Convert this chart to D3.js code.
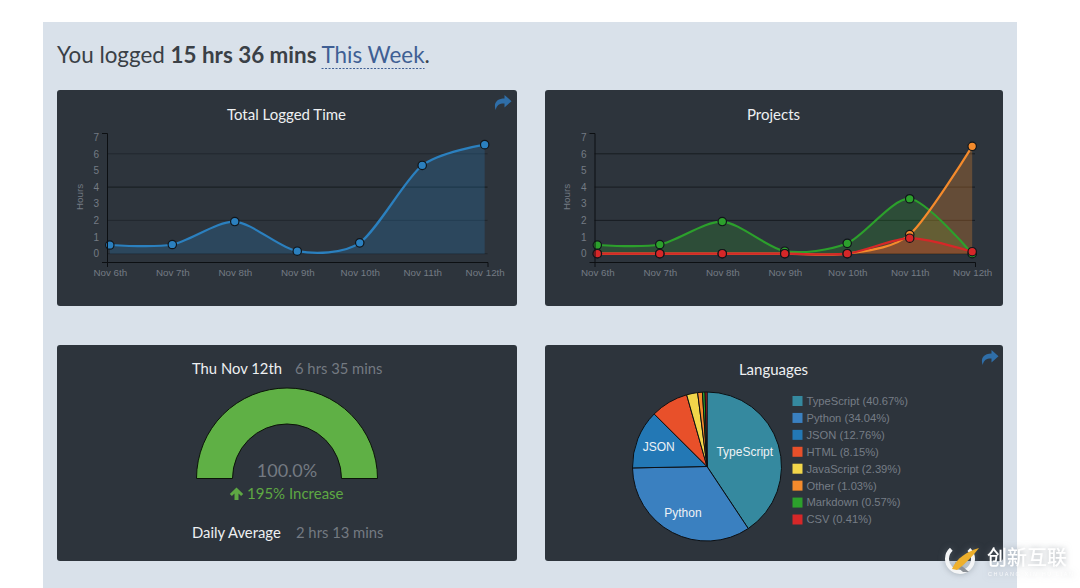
<!DOCTYPE html>
<html>
<head>
<meta charset="utf-8">
<script src="https://cdn.jsdelivr.net/npm/d3@7"></script>
<style>
  body { margin: 0; background: #fff; }
  svg { display: block; }
  .tick text, .axis-label { font-family: "Liberation Sans", sans-serif; font-size: 9.8px; fill: #747b84; }
  .lato { font-family: Lato, sans-serif; }
</style>
</head>
<body>
<div id="chart"></div>
<script>
const days = ["Nov 6th", "Nov 7th", "Nov 8th", "Nov 9th", "Nov 10th", "Nov 11th", "Nov 12th"]
const hourTicks = [0, 1, 2, 3, 4, 5, 6, 7]
const gridHours = [0, 2, 4, 6]

const totalHours = [0.52, 0.55, 1.93, 0.15, 0.65, 5.3, 6.55]
const projectA = [0.52, 0.55, 1.93, 0.15, 0.62, 3.3, 0]
const projectB = [0, 0, 0, 0, 0, 1.15, 6.45]
const projectC = [0, 0, 0, 0, 0, 0.93, 0.12]

const languages = ["TypeScript", "Python", "JSON", "HTML", "JavaScript", "Other", "Markdown", "CSV"]
const languagePct = [40.67, 34.04, 12.76, 8.15, 2.39, 1.03, 0.57, 0.41]
const languageColors = ["#35899f", "#3a80c0", "#2378b5", "#e8502a", "#f2d64a", "#f58b2c", "#2ca02c", "#d62728"]

const gaugePercent = 100

const svg = d3.select("#chart").append("svg").attr("width", 1080).attr("height", 588)

svg.append("rect").attr("x", 43).attr("y", 22).attr("width", 974).attr("height", 566).attr("fill", "#d9e1ea")

// header line
const header = svg.append("text").attr("class", "lato").attr("x", 57).attr("y", 63)
    .style("font-size", "22.4px").attr("fill", "#3a4046")
header.append("tspan").text("You logged ")
header.append("tspan").style("font-weight", 700).text("15 hrs 36 mins")
header.append("tspan").text(" ")
const weekLink = header.append("tspan").attr("fill", "#3f5f94").text("This Week")
header.append("tspan").text(".")
const weekStart = weekLink.node().getStartPositionOfChar(0).x
svg.append("line").attr("x1", weekStart).attr("x2", weekStart + weekLink.node().getComputedTextLength())
    .attr("y1", 68.5).attr("y2", 68.5).attr("stroke", "#3f5f94").attr("stroke-dasharray", "2,1.5")

function panel(x, y, w, h) {
    return svg.append("rect").attr("x", x).attr("y", y).attr("width", w).attr("height", h)
        .attr("rx", 3).attr("fill", "#2d343c")
}

function title(txt, x, y) {
    svg.append("text").attr("class", "lato").attr("x", x).attr("y", y).attr("text-anchor", "middle")
        .style("font-size", "15px").attr("fill", "#eef0f2").text(txt)
}

function shareIcon(x, y) {
    svg.append("path").attr("transform", "translate(" + x + "," + y + ")")
        .attr("d", "M10 0 L17 6.2 L10 12.5 V8.6 C5.5 8.4 2.5 9.5 1.2 15 C-1.5 7.5 3 3.6 10 3.6 Z")
        .attr("fill", "#2f6ea8")
}

panel(57, 90, 460, 216)
panel(545, 90, 458, 216)
panel(57, 345, 460, 216)
panel(545, 345, 458, 216)

title("Total Logged Time", 286.5, 119.5)
title("Projects", 773.5, 119.5)
title("Languages", 773.5, 374.5)
shareIcon(494.5, 95)
shareIcon(981.5, 350)

// line charts
const y = d3.scaleLinear().domain([-0.5, 7.25]).range([262, 133])

function lineChart(left, right, series, gridStyle) {
    const x = d3.scaleLinear().domain([-0.045, 6.045]).range([left, right])
    const g = svg.append("g")

    g.selectAll(".grid").data(gridStyle.hours).join("line")
        .attr("x1", x.range()[0]).attr("x2", x.range()[1])
        .attr("y1", d => y(d)).attr("y2", d => y(d))
        .attr("stroke", "#14181c").attr("stroke-opacity", d => gridStyle.opacity(d))

    const curve = d3.curveCardinal.tension(0.2)
    const area = d3.area().x((d, i) => x(i)).y0(y(0)).y1(d => y(d)).curve(curve)
    const line = d3.line().x((d, i) => x(i)).y(d => y(d)).curve(curve)

    series.forEach(s => {
        g.append("path").attr("d", area(s.values)).attr("fill", s.color).attr("fill-opacity", s.areaOpacity)
    })
    series.forEach(s => {
        g.append("path").attr("d", line(s.values)).attr("fill", "none").attr("stroke", s.color).attr("stroke-width", 2.2)
    })
    series.forEach(s => {
        g.selectAll(null).data(s.values).join("circle")
            .attr("cx", (d, i) => x(i)).attr("cy", d => y(d)).attr("r", 4.2)
            .attr("fill", s.color).attr("stroke", "#10151a").attr("stroke-width", 1.2)
    })

    const yAxis = g.append("g").attr("transform", "translate(" + left + ",0)")
        .call(d3.axisLeft(y).tickValues(hourTicks).tickFormat(d3.format("d")).tickSizeInner(0).tickSizeOuter(5).tickPadding(8))
    const xAxis = g.append("g").attr("transform", "translate(0,262)")
        .call(d3.axisBottom(x).tickValues(days.map((d, i) => i)).tickFormat(i => days[i]).tickSizeInner(0).tickSizeOuter(5).tickPadding(7))
    yAxis.selectAll(".domain").attr("stroke", "#0c0f12")
    xAxis.selectAll(".domain").attr("stroke", "#0c0f12")
    yAxis.selectAll(".tick text").style("font-size", "10px")

    g.append("text").attr("class", "axis-label").attr("text-anchor", "middle")
        .attr("transform", "translate(" + (left - 24.5) + ",197) rotate(-90)").text("Hours")
}

lineChart(107, 487.5, [
    { values: totalHours, color: "#2b80bf", areaOpacity: 0.26 }
], { hours: gridHours, opacity: d => d === 4 ? 0.9 : 0.45 })

lineChart(594.5, 975, [
    { values: projectA, color: "#2ca02c", areaOpacity: 0.24 },
    { values: projectB, color: "#f58b2c", areaOpacity: 0.28 },
    { values: projectC, color: "#d62728", areaOpacity: 0.28 }
], { hours: gridHours, opacity: () => 0.85 })

// gauge
const gaugeAngle = d3.scaleLinear().domain([0, 100]).range([-Math.PI / 2, Math.PI / 2])
const gauge = svg.append("g").attr("transform", "translate(287,478.5)")
gauge.append("path")
    .attr("d", d3.arc().innerRadius(54.5).outerRadius(90.5).startAngle(gaugeAngle(0)).endAngle(gaugeAngle(gaugePercent)))
    .attr("fill", "#5fb045").attr("stroke", "#0b1408").attr("stroke-width", 1)

function statRow(label, value, labelX, valueX, rowY) {
    svg.append("text").attr("class", "lato").attr("x", labelX).attr("y", rowY)
        .style("font-size", "14.8px").attr("fill", "#eef0f2").text(label)
    svg.append("text").attr("class", "lato").attr("x", valueX).attr("y", rowY)
        .style("font-size", "14.8px").attr("fill", "#747a82").text(value)
}
statRow("Thu Nov 12th", "6 hrs 35 mins", 192, 295, 374)
statRow("Daily Average", "2 hrs 13 mins", 192, 296, 538)

svg.append("text").attr("class", "lato").attr("x", 287).attr("y", 477).attr("text-anchor", "middle")
    .style("font-size", "18px").attr("fill", "#747a82").text(d3.format(".1f")(gaugePercent) + "%")
svg.append("path").attr("transform", "translate(236.5,487.5)")
    .attr("d", "M0 0 L6.7 6.5 L4.6 8.6 L2 6 V12.5 H-2 V6 L-4.6 8.6 L-6.7 6.5 Z").attr("fill", "#5ea843")
svg.append("text").attr("class", "lato").attr("x", 247).attr("y", 499)
    .style("font-size", "15px").attr("fill", "#5ea843").text("195% Increase")

// pie
const pieG = svg.append("g").attr("transform", "translate(707,466.5)")
const pieArcs = d3.pie().sort(null)(languagePct)
const sliceArc = d3.arc().innerRadius(0).outerRadius(74.5)
const labelArc = d3.arc().innerRadius(52).outerRadius(52)
pieG.selectAll("path").data(pieArcs).join("path")
    .attr("d", sliceArc).attr("fill", (d, i) => languageColors[i])
    .attr("stroke", "#0c0f12").attr("stroke-width", 1)
pieG.selectAll("text").data(pieArcs.filter(d => d.value > 10)).join("text")
    .attr("transform", d => {
        const c = labelArc.centroid(d)
        // the first label is pulled in so it stays inside the pie
        return "translate(" + (c[0] - (d.index === 0 ? 12 : 0)) + "," + c[1] + ")"
    })
    .attr("text-anchor", "middle").attr("dy", "0.35em")
    .style("font-family", "Liberation Sans, sans-serif").style("font-size", "12px").attr("fill", "#eef2f5")
    .text(d => languages[d.index])

// legend
const legendY = d3.scalePoint().domain(languages).range([401, 519.5])
const legend = svg.selectAll(".legend").data(languages).join("g")
    .attr("transform", d => "translate(792.5," + legendY(d) + ")")
legend.append("rect").attr("y", -5).attr("width", 10).attr("height", 10)
    .attr("fill", (d, i) => languageColors[i])
legend.append("text").attr("x", 14).attr("dy", "0.35em")
    .style("font-family", "Liberation Sans, sans-serif").style("font-size", "11.2px").attr("fill", "#767d86")
    .text((d, i) => d + " (" + languagePct[i].toFixed(2) + "%)")

// watermark
const mark = svg.append("g").style("filter", "drop-shadow(0 0 3px rgba(110,120,130,0.55))")
mark.append("path").attr("d", d3.arc().innerRadius(11).outerRadius(15).startAngle(0.75).endAngle(5.55))
    .attr("transform", "translate(960,559)").attr("fill", "#f4f5f6")
mark.append("path").attr("d", "M955 562 L963 567 L969 572 L963 572 L956 566 Z").attr("fill", "#8b9096")
mark.append("path").attr("d", "M952 569 C957 558 966 552 979 548 C973 556 965 564 957 570 Z").attr("fill", "#eeb02c")
mark.append("text").attr("x", 987).attr("y", 564.5)
    .style("font-family", "Noto Sans CJK SC").style("font-size", "20px").style("font-weight", 500)
    .attr("fill", "#ffffff").text("创新互联")
mark.append("text").attr("x", 988).attr("y", 576)
    .style("font-family", "Liberation Sans, sans-serif").style("font-size", "5.5px").style("letter-spacing", "1.6px")
    .attr("fill", "#ffffff").attr("fill-opacity", 0.8).text("CHUANG XIN HU LIAN")
</script>
</body>
</html>
